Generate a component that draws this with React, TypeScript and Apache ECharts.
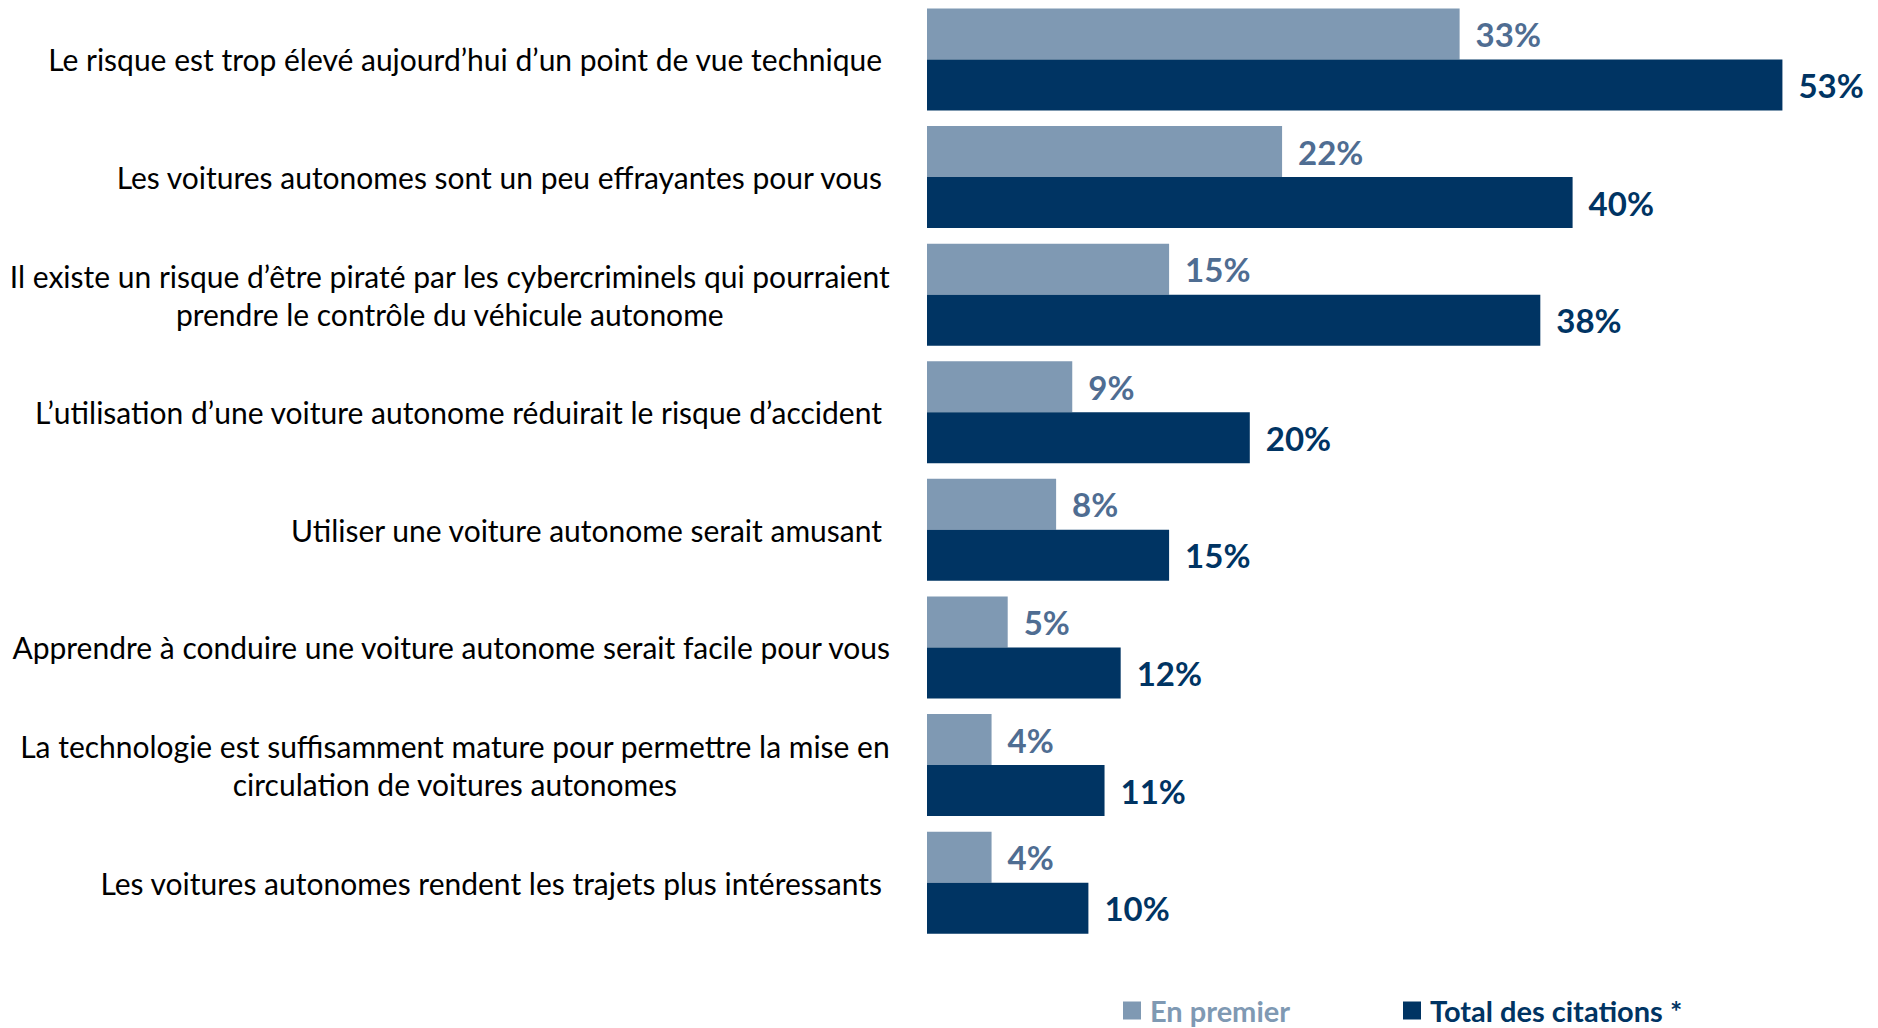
import React, { useEffect, useRef } from "react";
import * as echarts from "echarts";

// Labels ending with a space were right-aligned with a trailing space in the original.
const categories: string[] = [
  "Le risque est trop élevé aujourd’hui d’un point de vue technique ",
  "Les voitures autonomes sont un peu effrayantes pour vous ",
  "Il existe un risque d’être piraté par les cybercriminels qui pourraient\nprendre le contrôle du véhicule autonome",
  "L’utilisation d’une voiture autonome réduirait le risque d’accident ",
  "Utiliser une voiture autonome serait amusant ",
  "Apprendre à conduire une voiture autonome serait facile pour vous",
  "La technologie est suffisamment mature pour permettre la mise en\ncirculation de voitures autonomes",
  "Les voitures autonomes rendent les trajets plus intéressants ",
];

const enPremier: number[] = [33, 22, 15, 9, 8, 5, 4, 4];
const totalCitations: number[] = [53, 40, 38, 20, 15, 12, 11, 10];

const seriesNames: string[] = ["En premier", "Total des citations *"];

const LIGHT = "#7f99b3";
const LIGHT_LABEL = "#4f6d92";
const DARK = "#003463";
const FONT = "Lato";
const CAT_SIZE = 30;

export default function App() {
  const ref = useRef<HTMLDivElement>(null);

  useEffect(() => {
    if (!ref.current) return;
    const chart = echarts.init(ref.current, undefined, { renderer: "svg" });

    const formatCategory = (v: string) => {
      if (v.indexOf("\n") >= 0) {
        return v
          .split("\n")
          .map((l) => `{c|${l}}`)
          .join("\n");
      }
      if (v.endsWith(" ")) return `{r|${v.trimEnd()}}`;
      return `{n|${v}}`;
    };

    const catStyle = { fontFamily: FONT, fontSize: CAT_SIZE, lineHeight: 38, color: "#000" };
    const legendText = {
      fontFamily: FONT,
      fontSize: 29,
      lineHeight: 28,
      fontWeight: "bold",
      padding: [0, 0, 0, 4],
    };

    chart.setOption({
      animation: false,
      backgroundColor: "#ffffff",
      grid: {
        left: 927,
        right: 63.3,
        top: 0.6,
        bottom: 86.5,
        containLabel: false,
      },
      xAxis: {
        type: "value",
        min: 0,
        max: 55,
        show: false,
        splitLine: { show: false },
      },
      yAxis: {
        type: "category",
        inverse: true,
        data: categories,
        axisLine: { show: false },
        axisTick: { show: false },
        splitLine: { show: false },
        axisLabel: {
          margin: 37,
          color: "#000000",
          fontFamily: FONT,
          fontSize: CAT_SIZE,
          lineHeight: 38,
          formatter: formatCategory,
          rich: {
            c: { ...catStyle, align: "center" },
            r: { ...catStyle, padding: [0, 8, 0, 0] },
            n: { ...catStyle },
          },
        },
      },
      legend: [
        {
          data: [{ name: seriesNames[0], textStyle: { color: LIGHT } }],
          left: 1123,
          top: 996,
          icon: "rect",
          itemWidth: 18,
          itemHeight: 18,
          padding: 0,
          selectedMode: false,
          textStyle: legendText,
        },
        {
          data: [{ name: seriesNames[1], textStyle: { color: DARK } }],
          left: 1403,
          top: 996,
          icon: "rect",
          itemWidth: 18,
          itemHeight: 18,
          padding: 0,
          selectedMode: false,
          textStyle: legendText,
        },
      ],
      series: [
        {
          name: seriesNames[0],
          type: "bar",
          data: enPremier,
          barWidth: 51,
          barGap: "0%",
          itemStyle: { color: LIGHT },
          label: {
            show: true,
            position: "right",
            distance: 16,
            formatter: "{c}%",
            color: LIGHT_LABEL,
            fontFamily: FONT,
            fontSize: 33,
            fontWeight: "bold",
          },
        },
        {
          name: seriesNames[1],
          type: "bar",
          data: totalCitations,
          barWidth: 51,
          barGap: "0%",
          itemStyle: { color: DARK },
          label: {
            show: true,
            position: "right",
            distance: 16,
            formatter: "{c}%",
            color: DARK,
            fontFamily: FONT,
            fontSize: 33,
            fontWeight: "bold",
          },
        },
      ],
    });

    return () => chart.dispose();
  }, []);

  return (
    <div
      ref={ref}
      style={{ position: "absolute", left: 0, top: 0, width: 1878, height: 1028 }}
    />
  );
}
